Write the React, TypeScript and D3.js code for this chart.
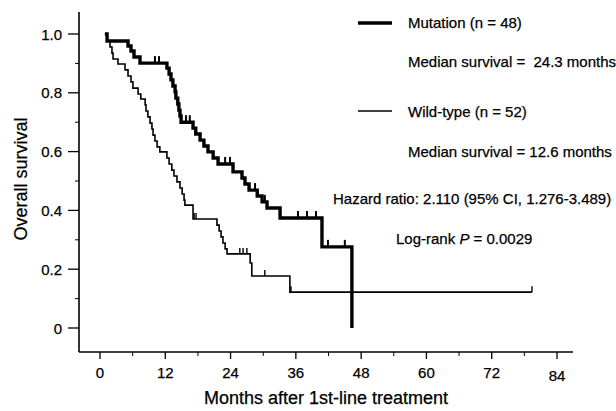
import React from "react";
import * as d3 from "d3";

const width = 616;
const height = 411;

// Kaplan-Meier steps: [month, survival after the drop]
const mutationStart = 0.9;
const mutationSteps: [number, number][] = [
  [1.3, 0.976], [5.15, 0.959], [5.7, 0.942], [6.25, 0.922], [7.35, 0.901],
  [12.3, 0.884], [12.7, 0.864], [13.05, 0.844], [13.4, 0.823], [13.8, 0.803],
  [13.95, 0.782], [14.3, 0.762], [14.5, 0.741], [14.7, 0.721], [14.9, 0.7],
  [17.1, 0.68], [17.6, 0.66], [18.4, 0.639], [19.1, 0.619], [19.85, 0.599],
  [20.8, 0.578], [21.7, 0.558], [24.45, 0.531], [26.1, 0.51], [26.65, 0.49],
  [27.4, 0.469], [28.9, 0.449], [29.8, 0.429], [30.7, 0.408], [33.1, 0.374],
  [40.8, 0.276], [46.3, 0],
];
const mutationCensored = [10.1, 10.85, 15.8, 16.5, 23.0, 23.9, 28.5, 30.3, 36.4, 38.05, 39.7, 41.9, 45.0];

const wildStart = 0.9;
const wildSteps: [number, number][] = [
  [1.3, 0.976], [1.84, 0.956], [2.2, 0.935], [2.4, 0.915], [3.3, 0.898],
  [4.6, 0.878], [5.15, 0.857], [5.7, 0.837], [6.05, 0.816], [7.0, 0.796],
  [7.5, 0.779], [8.3, 0.759], [8.45, 0.738], [8.8, 0.718], [9.2, 0.697],
  [9.55, 0.677], [9.75, 0.656], [10.1, 0.636], [10.5, 0.616], [11.0, 0.599],
  [12.3, 0.578], [12.7, 0.558], [13.2, 0.537], [13.6, 0.517], [14.15, 0.497],
  [14.7, 0.476], [15.1, 0.456], [15.45, 0.435], [15.6, 0.418], [17.1, 0.371],
  [21.5, 0.35], [21.9, 0.33], [22.25, 0.31], [22.6, 0.289], [23.0, 0.269],
  [23.35, 0.252], [27.6, 0.221], [27.9, 0.177], [34.9, 0.122],
];
const wildCensored = [17.3, 17.65, 25.7, 26.3, 27.0, 30.3, 35.1, 79.4];
const wildEnd = 79.4;

const xTicks = [0, 12, 24, 36, 48, 60, 72, 84];
const xMinor = [6, 18, 30, 42, 54, 66, 78];
const yTicks = [0, 0.2, 0.4, 0.6, 0.8, 1.0];
const yMinor = [0.1, 0.3, 0.5, 0.7, 0.9];
const yTickLabels = ["0", "0.2", "0.4", "0.6", "0.8", "1.0"];

const legendLabels = ["Mutation (n = 48)", "Wild-type (n = 52)"];
const medianLabels = ["Median survival =  24.3 months", "Median survival = 12.6 months"];
const hazardLabel = "Hazard ratio: 2.110 (95% CI, 1.276-3.489)";
const pValue = "0.0029";

const font = "'Liberation Sans', Arial, Helvetica, sans-serif";

const x = d3.scaleLinear().domain([0, 84]).range([100, 557]);
const y = d3.scaleLinear().domain([0, 1]).range([328, 34]);

const stepLine = d3
  .line<[number, number]>()
  .x((d) => x(d[0]))
  .y((d) => y(d[1]))
  .curve(d3.curveStepAfter);

const survAt = (steps: [number, number][], t: number) => {
  let s = 1;
  for (const [tt, v] of steps) if (tt <= t) s = v;
  return s;
};

const mutPts: [number, number][] = [[mutationStart, 1], ...mutationSteps];
const wildPts: [number, number][] = [[wildStart, 1], ...wildSteps, [wildEnd, wildSteps[wildSteps.length - 1][1]]];

export default function App() {
  const axisLeft = 79;
  const axisBottom = 352;
  const txt = { fontSize: 15, stroke: "#000", strokeWidth: 0.25, style: { whiteSpace: "pre" as const } };
  return (
    <svg width={width} height={height} style={{ display: "block", position: "absolute", left: 0, top: 0, background: "#fff" }}>
      <g fontFamily={font} fill="#000">
        {/* axes */}
        <line x1={axisLeft} x2={axisLeft} y1={12} y2={axisBottom} stroke="#000" strokeWidth={1.6} />
        <line x1={axisLeft} x2={573} y1={axisBottom} y2={axisBottom} stroke="#000" strokeWidth={1.6} />
        {yTicks.map((t, i) => (
          <g key={"y" + t}>
            <line x1={axisLeft - 11} x2={axisLeft} y1={y(t)} y2={y(t)} stroke="#000" strokeWidth={1.3} />
            <text x={62} y={y(t) + 5.5} textAnchor="end" {...txt}>{yTickLabels[i]}</text>
          </g>
        ))}
        {yMinor.map((t) => (
          <line key={"ym" + t} x1={axisLeft - 4} x2={axisLeft} y1={y(t)} y2={y(t)} stroke="#000" strokeWidth={1} />
        ))}
        {xTicks.map((t) => (
          <g key={"x" + t}>
            <line x1={x(t)} x2={x(t)} y1={axisBottom} y2={axisBottom + 7} stroke="#000" strokeWidth={1.3} />
            <text x={x(t)} y={t === 84 ? 381 : 378} textAnchor="middle" {...txt}>{t}</text>
          </g>
        ))}
        {xMinor.map((t) => (
          <line key={"xm" + t} x1={x(t)} x2={x(t)} y1={axisBottom} y2={axisBottom + 4} stroke="#000" strokeWidth={1} />
        ))}
        <text x={326} y={404} textAnchor="middle" {...txt} fontSize={18}>Months after 1st-line treatment</text>
        <text transform="translate(27,179) rotate(-90)" textAnchor="middle" {...txt} fontSize={18}>Overall survival</text>

        {/* curves */}
        <path d={stepLine(wildPts) ?? ""} fill="none" stroke="#000" strokeWidth={1.6} />
        <path d={stepLine(mutPts) ?? ""} fill="none" stroke="#000" strokeWidth={3.4} />
        {wildCensored.map((t) => (
          <line key={"wc" + t} x1={x(t)} x2={x(t)} y1={y(survAt(wildSteps, t))} y2={y(survAt(wildSteps, t)) - 6} stroke="#000" strokeWidth={1.4} />
        ))}
        {mutationCensored.map((t) => (
          <line key={"mc" + t} x1={x(t)} x2={x(t)} y1={y(survAt(mutationSteps, t))} y2={y(survAt(mutationSteps, t)) - 7} stroke="#000" strokeWidth={2} />
        ))}

        {/* legend and annotations */}
        <line x1={358} x2={392} y1={23} y2={23} stroke="#000" strokeWidth={3.4} />
        <text x={408} y={28} {...txt}>{legendLabels[0]}</text>
        <text x={408} y={67} {...txt}>{medianLabels[0]}</text>
        <line x1={358} x2={392} y1={111} y2={111} stroke="#000" strokeWidth={1.6} />
        <text x={408} y={117} {...txt}>{legendLabels[1]}</text>
        <text x={408} y={157} {...txt}>{medianLabels[1]}</text>
        <text x={333} y={204} {...txt}>{hazardLabel}</text>
        <text x={396} y={244} {...txt}>
          Log-rank <tspan fontStyle="italic">P</tspan> = {pValue}
        </text>
      </g>
    </svg>
  );
}
